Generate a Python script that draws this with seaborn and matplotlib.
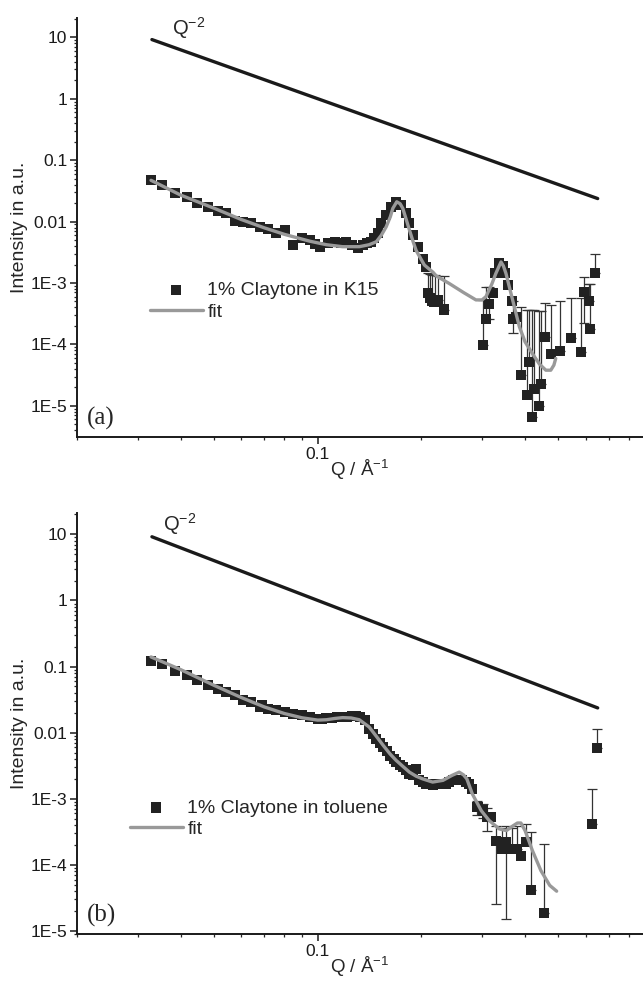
import numpy as np
import matplotlib
matplotlib.use('Agg')
import matplotlib.pyplot as plt
from matplotlib.ticker import FixedLocator, LogLocator, FuncFormatter, NullFormatter
import seaborn as sns

# Q^-2 guide line (same in both panels)
q_guide = [0.033, 0.65]
i_guide = [9.2, 0.0237]

# panel (a): 1% Claytone in K15
q_a = [0.0328, 0.0354, 0.0385, 0.0416, 0.0446, 0.048, 0.0514, 0.0541, 0.0574, 0.0607,
       0.0642, 0.0681, 0.0717, 0.0758, 0.0802, 0.0848, 0.090, 0.0947, 0.098, 0.1012,
       0.1068, 0.112, 0.117, 0.121, 0.126, 0.1307, 0.1352, 0.139, 0.143, 0.146,
       0.1493, 0.1528, 0.158, 0.1634, 0.169, 0.1746, 0.1805, 0.1846, 0.1887, 0.195,
       0.2017, 0.2064, 0.2087, 0.212, 0.215, 0.2183, 0.223, 0.2333,
       0.3027, 0.308, 0.315, 0.3233, 0.3278, 0.3366, 0.344, 0.350, 0.358, 0.366,
       0.369, 0.376, 0.389, 0.406, 0.411, 0.420, 0.425, 0.4396, 0.4446, 0.4576,
       0.475, 0.506, 0.543, 0.581, 0.593, 0.614, 0.616, 0.637]
i_a = [0.047, 0.039, 0.0288, 0.0254, 0.0198, 0.017, 0.015, 0.0136, 0.0102, 0.0100,
       0.0094, 0.0082, 0.0077, 0.0064, 0.0073, 0.0041, 0.0055, 0.0050, 0.0043, 0.0038,
       0.0044, 0.0047, 0.0044, 0.0047, 0.0041, 0.0037, 0.0041, 0.0044, 0.0047, 0.0055,
       0.0064, 0.0094, 0.0128, 0.0174, 0.021, 0.0187, 0.0136, 0.0094, 0.0060, 0.0039,
       0.0025, 0.0018, 6.8e-4, 5.6e-4, 5.0e-4, 4.9e-4, 5.2e-4, 3.7e-4,
       9.6e-5, 2.6e-4, 4.5e-4, 6.8e-4, 1.43e-3, 2.08e-3, 1.86e-3, 1.43e-3, 9.2e-4, 5.1e-4,
       2.6e-4, 2.8e-4, 3.2e-5, 1.5e-5, 5.2e-5, 6.6e-6, 1.85e-5, 1.0e-5, 2.3e-5, 1.3e-4,
       7.1e-5, 7.9e-5, 1.25e-4, 7.4e-5, 7.2e-4, 5.1e-4, 1.75e-4, 1.43e-3]

err_q_a = [0.2087, 0.212, 0.215, 0.2183, 0.223, 0.2333, 0.3027, 0.308, 0.315, 0.369,
           0.389, 0.406, 0.411, 0.420, 0.425, 0.4396, 0.4446, 0.4576, 0.475, 0.506,
           0.543, 0.581, 0.593, 0.614, 0.616, 0.637]
err_lo_a = [6.8e-4, 5.6e-4, 5.0e-4, 4.9e-4, 5.2e-4, 3.7e-4, 9.6e-5, 2.6e-4, 2.6e-4, 1.55e-4,
            3.2e-5, 1.5e-5, 5.2e-5, 6.6e-6, 1.85e-5, 1.0e-5, 2.3e-5, 1.3e-4, 7.1e-5, 7.9e-5,
            1.25e-4, 7.4e-5, 2.2e-4, 5.1e-4, 1.75e-4, 1.43e-3]
err_hi_a = [1.45e-3, 1.4e-3, 1.35e-3, 1.35e-3, 1.3e-3, 1.3e-3, 5.3e-4, 8.7e-4, 8.7e-4, 5.0e-4,
            4.1e-4, 3.7e-4, 3.7e-4, 3.6e-4, 3.6e-4, 3.5e-4, 3.5e-4, 4.8e-4, 4.4e-4, 5.0e-4,
            5.6e-4, 5.8e-4, 1.26e-3, 9.8e-4, 9.8e-4, 3.0e-3]

fit_q_a = [0.0328, 0.040, 0.050, 0.060, 0.070, 0.080, 0.0947, 0.106, 0.118, 0.132,
           0.141, 0.148, 0.153, 0.158, 0.1625, 0.1652, 0.1696, 0.1735, 0.1766, 0.1805,
           0.1846, 0.189, 0.193, 0.204, 0.216, 0.221, 0.241, 0.265, 0.288, 0.300,
           0.308, 0.320, 0.329, 0.3405, 0.346, 0.352, 0.368, 0.385, 0.400, 0.420,
           0.440, 0.4596, 0.475, 0.485, 0.491]
fit_i_a = [0.047, 0.027, 0.0165, 0.0108, 0.0079, 0.0062, 0.0048, 0.0042, 0.0039, 0.0039,
           0.0042, 0.0047, 0.0060, 0.0082, 0.0120, 0.0164, 0.021, 0.0195, 0.0164, 0.0110,
           0.0073, 0.0048, 0.0034, 0.00196, 0.0015, 0.0013, 9.8e-4, 7.0e-4, 5.3e-4, 5.3e-4,
           6.0e-4, 9.5e-4, 1.43e-3, 2.2e-3, 1.9e-3, 1.43e-3, 5.3e-4, 1.94e-4, 1.1e-4, 7.1e-5,
           4.8e-5, 3.8e-5, 3.8e-5, 4.6e-5, 5.9e-5]

# panel (b): 1% Claytone in toluene
q_b = [0.0328, 0.0354, 0.0385, 0.0416, 0.0446, 0.048, 0.0514, 0.0541, 0.0574, 0.0607,
       0.0642, 0.0681, 0.069, 0.0717, 0.0758, 0.0802, 0.0848, 0.090, 0.0947, 0.1,
       0.103, 0.106, 0.110, 0.114, 0.118, 0.122, 0.126, 0.129, 0.133, 0.137,
       0.141, 0.145, 0.148, 0.152, 0.155, 0.159, 0.162, 0.166, 0.169, 0.173,
       0.1766, 0.181, 0.1846, 0.189, 0.193, 0.197, 0.2017, 0.2064, 0.211, 0.2156,
       0.2206, 0.226, 0.231, 0.236, 0.241, 0.2465, 0.2518, 0.257, 0.263, 0.269,
       0.275, 0.281, 0.291, 0.301, 0.311, 0.318, 0.329, 0.343, 0.353, 0.366,
       0.378, 0.390, 0.402, 0.4155, 0.455, 0.627, 0.646]
i_b = [0.1216, 0.1084, 0.0858, 0.0738, 0.062, 0.052, 0.0464, 0.0412, 0.0367, 0.0316,
       0.0291, 0.0244, 0.0264, 0.0231, 0.0218, 0.0205, 0.0194, 0.0183, 0.0173, 0.0160,
       0.0162, 0.0165, 0.0168, 0.0170, 0.0172, 0.0174, 0.0176, 0.0176, 0.0170, 0.0154,
       0.0115, 0.0095, 0.0081, 0.0070, 0.0060, 0.0052, 0.0045, 0.0040, 0.0036, 0.0033,
       0.0030, 0.0027, 0.0024, 0.0023, 0.00285, 0.0019, 0.0018, 0.00169, 0.0017, 0.0016,
       0.00169, 0.0017, 0.0017, 0.0017, 0.0018, 0.0019, 0.0019, 0.0019, 0.0019, 0.0018,
       0.0017, 0.00142, 7.5e-4, 6.65e-4, 5.3e-4, 5.3e-4, 2.3e-4, 1.75e-4, 2.2e-4, 1.75e-4,
       1.75e-4, 1.34e-4, 2.2e-4, 4.2e-5, 1.85e-5, 4.1e-4, 5.8e-3]

err_q_b = [0.291, 0.301, 0.311, 0.329, 0.343, 0.353, 0.366, 0.378, 0.402, 0.4155,
           0.455, 0.627, 0.646]
err_lo_b = [5.6e-4, 5.2e-4, 3.2e-4, 2.6e-5, 1.75e-4, 1.5e-5, 1.75e-4, 1.75e-4, 2.2e-4, 4.2e-5,
            1.85e-5, 4.1e-4, 5.8e-3]
err_hi_b = [9.4e-4, 8.4e-4, 7.2e-4, 3.9e-4, 3.6e-4, 3.9e-4, 3.6e-4, 3.9e-4, 4.2e-4, 3.1e-4,
            2.1e-4, 1.42e-3, 1.15e-2]

fit_q_b = [0.0328, 0.040, 0.050, 0.060, 0.070, 0.080, 0.090, 0.1, 0.106, 0.112,
           0.118, 0.125, 0.132, 0.141, 0.148, 0.155, 0.162, 0.169, 0.1766, 0.1846,
           0.193, 0.2017, 0.2156, 0.231, 0.245, 0.2575, 0.265, 0.271, 0.281, 0.2985,
           0.3145, 0.3366, 0.353, 0.369, 0.380, 0.389, 0.40, 0.420, 0.4446, 0.4716, 0.494]
fit_i_b = [0.140, 0.090, 0.052, 0.034, 0.0245, 0.0195, 0.0168, 0.0155, 0.0157, 0.0164,
           0.0169, 0.0167, 0.0157, 0.0122, 0.0088, 0.0064, 0.0048, 0.0038, 0.0031, 0.00253,
           0.0022, 0.0020, 0.00179, 0.0019, 0.00225, 0.00253, 0.0023, 0.0020, 0.00119, 6.6e-4,
           4.7e-4, 3.5e-4, 3.3e-4, 3.9e-4, 4.3e-4, 4.3e-4, 3.3e-4, 1.65e-4, 8.2e-5, 4.9e-5, 4.0e-5]

# tick positions
y_majors = [1e-5, 1e-4, 1e-3, 0.01, 0.1, 1, 10]
x_majors = [0.1]

sns.set_style('ticks')
plt.rcParams['font.family'] = ['Liberation Sans', 'DejaVu Sans']
plt.rcParams['mathtext.default'] = 'regular'

fig = plt.figure(figsize=(6.43, 9.81), dpi=100)
ax_a = fig.add_axes([0.1198, 0.5545, 0.8802, 0.4268])
ax_b = fig.add_axes([0.1198, 0.0479, 0.8802, 0.4288])


def ytick_fmt(v, pos):
    if v >= 0.01:
        return '%g' % v
    return '1E%d' % int(round(np.log10(v)))


def draw_panel(ax, q, i, fq, fi, eq, elo, ehi, label, letter, ylim, leg_xy, qlab_xy):
    elo = np.array(elo)
    ehi = np.array(ehi)
    ax.errorbar(eq, elo, yerr=[np.zeros(len(elo)), ehi - elo], fmt='none',
                ecolor='#333333', elinewidth=0.9, capsize=3.5, capthick=0.9, zorder=2)
    sns.lineplot(x=q_guide, y=i_guide, color='#1a1a1a', lw=2.4, sort=False,
                 estimator=None, ax=ax, legend=False)
    sns.scatterplot(x=q, y=i, marker='s', s=52, color='#222222', edgecolor='none',
                    linewidth=0, ax=ax, label=label, legend=False, zorder=3)
    sns.lineplot(x=fq, y=fi, color='#999999', lw=2.4, sort=False, estimator=None,
                 ax=ax, label='fit', legend=False, zorder=4)

    ax.set_xscale('log')
    ax.set_yscale('log')
    ax.set_xlim(0.02, 0.88)
    ax.set_ylim(*ylim)

    ax.xaxis.set_major_locator(FixedLocator(x_majors))
    ax.xaxis.set_minor_locator(LogLocator(base=10, subs=np.arange(2, 10), numticks=10))
    ax.xaxis.set_major_formatter(FuncFormatter(lambda v, p: '%g' % v))
    ax.xaxis.set_minor_formatter(NullFormatter())
    ax.yaxis.set_major_locator(FixedLocator(y_majors))
    ax.yaxis.set_minor_locator(LogLocator(base=10, subs=np.arange(2, 10), numticks=20))
    ax.yaxis.set_major_formatter(FuncFormatter(ytick_fmt))
    ax.yaxis.set_minor_formatter(NullFormatter())
    ax.tick_params(which='major', direction='out', length=5, width=1.1, pad=2,
                   labelsize=12.5, colors='#1a1a1a')
    ax.tick_params(which='minor', direction='out', length=2.5, width=0.9)

    sns.despine(ax=ax)
    for side in ['left', 'bottom']:
        ax.spines[side].set_linewidth(1.4)
        ax.spines[side].set_color('#1a1a1a')

    ax.set_xlabel('Q / Å$^{-1}$', fontsize=13.5, labelpad=-3)
    ax.set_ylabel('Intensity in a.u.', fontsize=14, labelpad=2)
    ax.text(qlab_xy[0], qlab_xy[1], 'Q$^{-2}$', transform=ax.transAxes, fontsize=14.5,
            ha='left', va='center')
    ax.text(0.017, 0.045, letter, transform=ax.transAxes, fontsize=18,
            family='Liberation Serif', ha='left', va='center')

    h, l = ax.get_legend_handles_labels()
    order = [l.index(label), l.index('fit')]
    ax.legend([h[k] for k in order], [l[k] for k in order], loc='center left',
              bbox_to_anchor=leg_xy, frameon=False, fontsize=14, borderpad=0,
              borderaxespad=0, handlelength=2.7, handletextpad=0.25, labelspacing=0.2,
              scatterpoints=1)


draw_panel(ax_a, q_a, i_a, fit_q_a, fit_i_a, err_q_a, err_lo_a, err_hi_a,
           '1% Claytone in K15', '(a)', (3.1e-6, 20.4), (0.129, 0.325), (0.168, 0.976))
draw_panel(ax_b, q_b, i_b, fit_q_b, fit_i_b, err_q_b, err_lo_b, err_hi_b,
           '1% Claytone in toluene', '(b)', (9e-6, 20.8), (0.0936, 0.2745), (0.152, 0.974))

fig.savefig('out.png', dpi=100)
